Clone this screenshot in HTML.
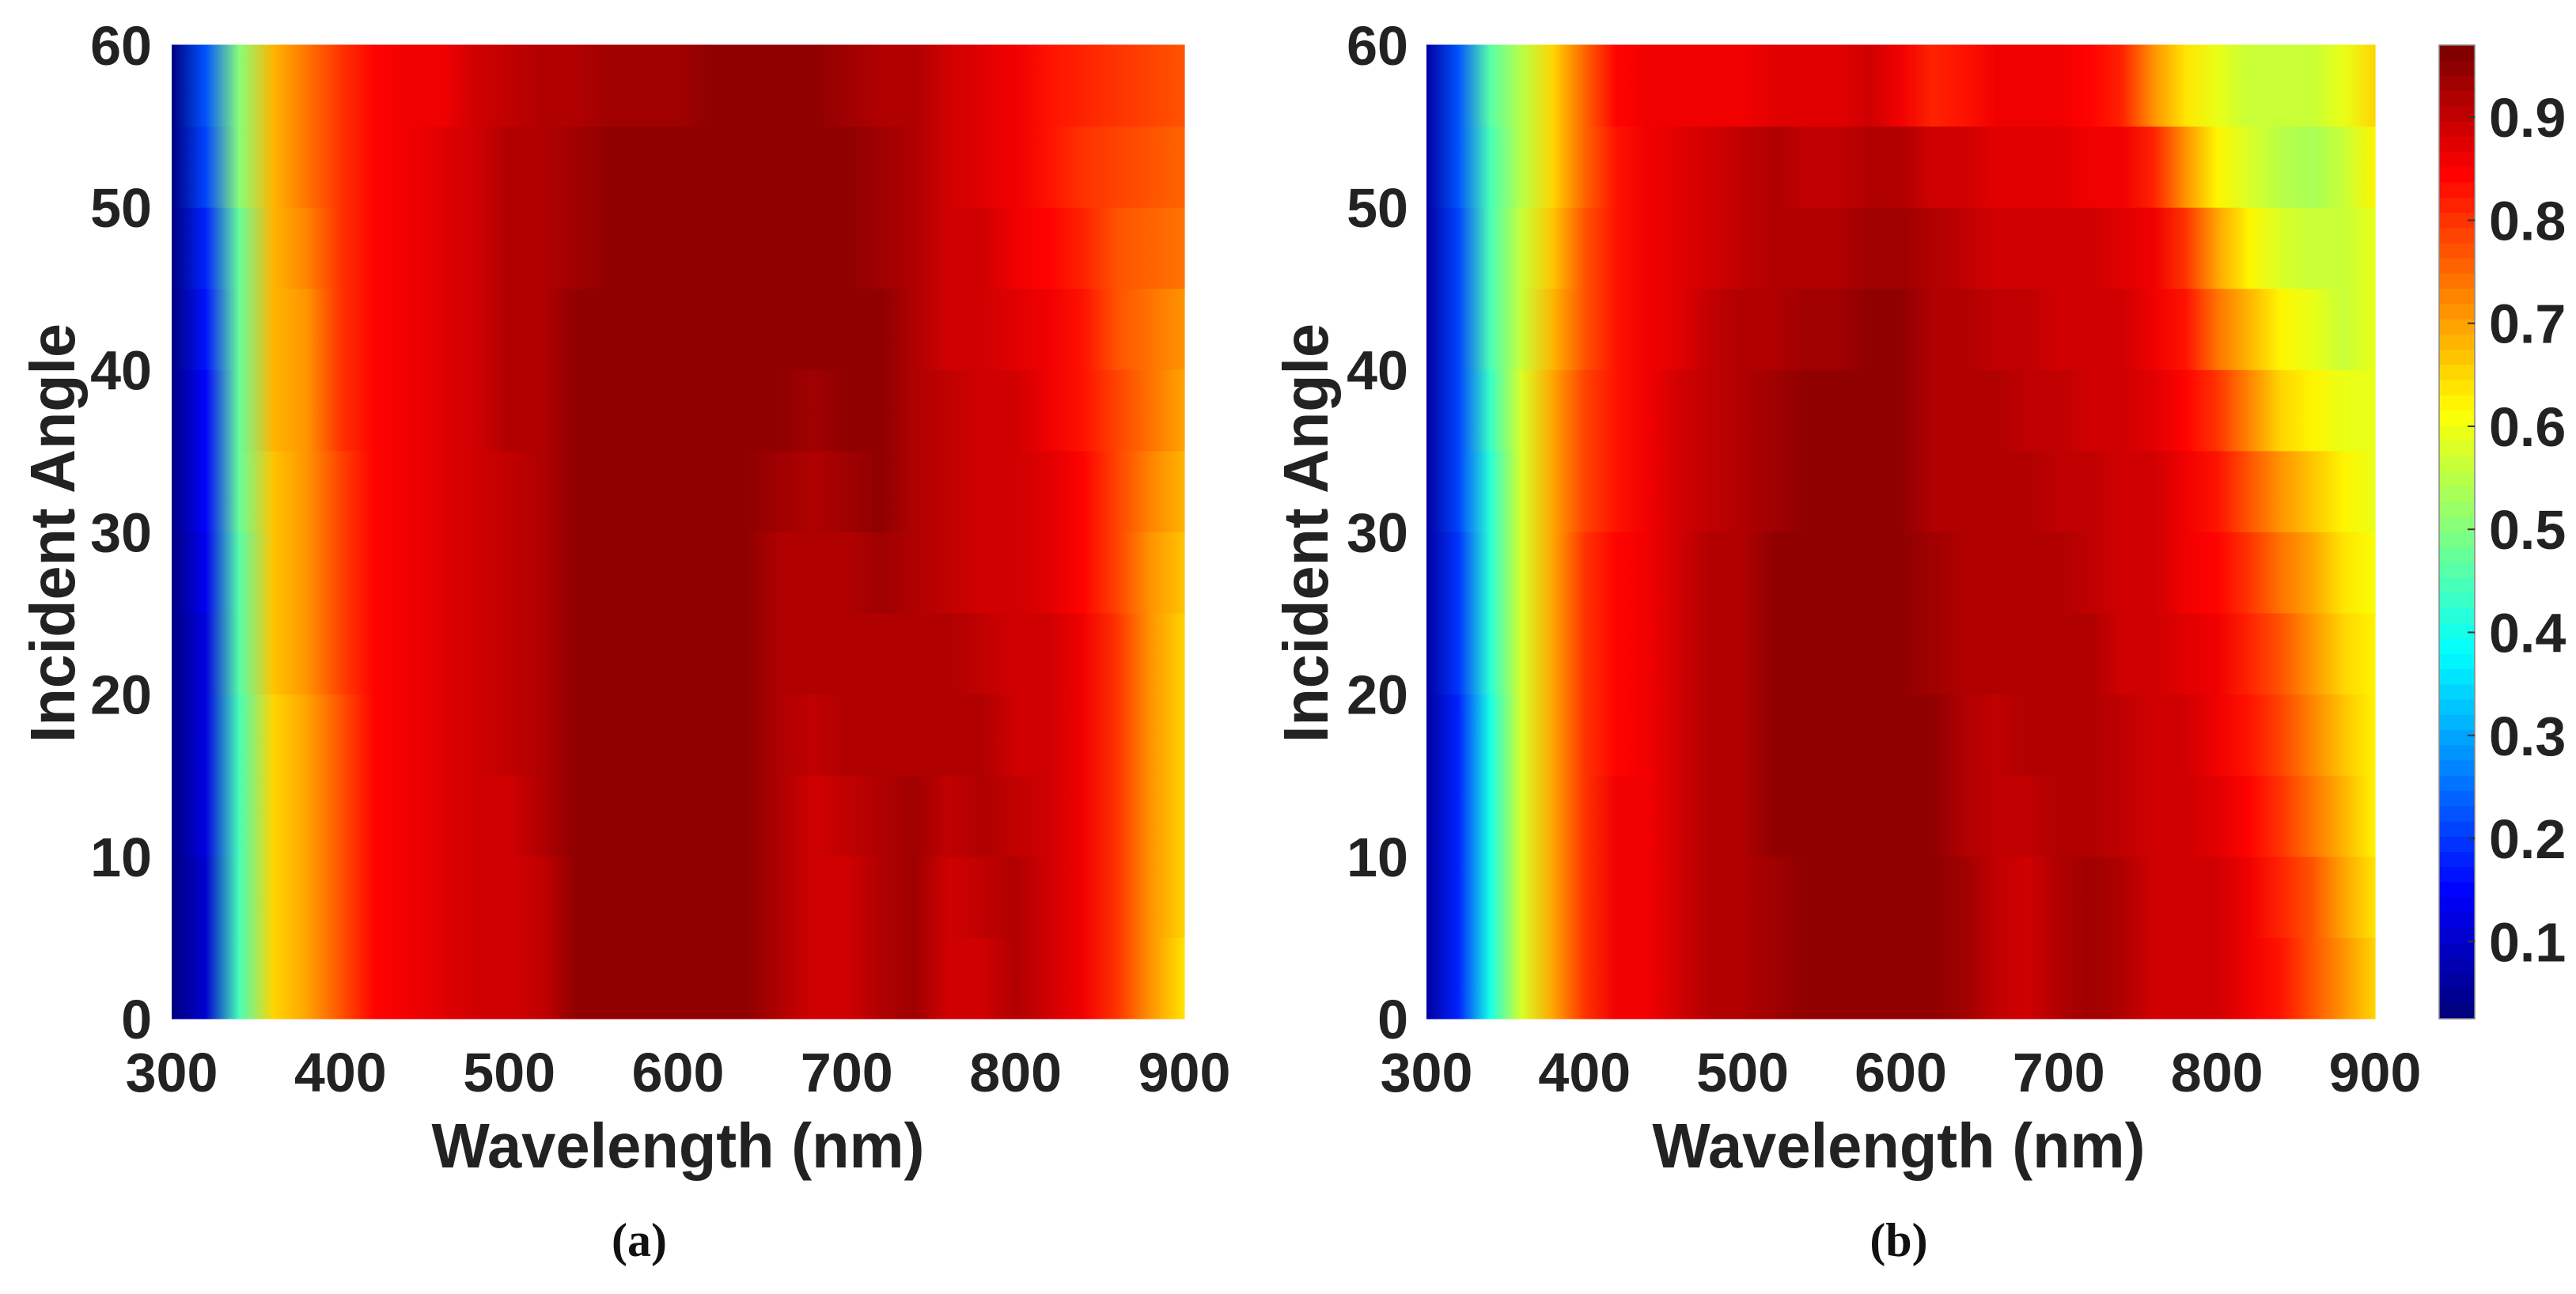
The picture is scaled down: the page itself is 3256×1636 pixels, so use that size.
<!DOCTYPE html>
<html><head><meta charset="utf-8"><style>
html,body{margin:0;padding:0;background:#fff;}
svg{display:block;}
text{font-family:"Liberation Sans",Arial,sans-serif;font-weight:bold;fill:#222;}
.cap{font-family:"Liberation Serif",serif;font-weight:bold;fill:#111;}
</style></head><body>
<svg id="fig" width="3256" height="1636" viewBox="0 0 3256 1636" xmlns="http://www.w3.org/2000/svg">
<defs id="defs"></defs>
<g id="root"></g>
</svg>
<script>
const wavelengths = [300,320,340,360,380,400,420,440,460,480,500,520,540,560,580,600,620,640,660,680,700,720,740,760,780,800,820,840,860,880,900];
const angleBands = [0,5,10,15,20,25,30,35,40,45,50,55];
const xTicks = [300,400,500,600,700,800,900];
const yTicks = [0,10,20,30,40,50,60];
const cbTicks = [0.1,0.2,0.3,0.4,0.5,0.6,0.7,0.8,0.9];
const panelA = [
[.03,.1,.44,.66,.7,.78,.85,.86,.88,.9,.9,.91,.95,.96,.95,.96,.96,.96,.92,.9,.9,.92,.94,.9,.9,.92,.9,.86,.8,.72,.64],
[.03,.1,.44,.66,.7,.78,.85,.86,.88,.9,.9,.91,.95,.96,.96,.96,.96,.96,.92,.9,.9,.92,.94,.9,.91,.92,.9,.86,.8,.72,.65],
[.03,.11,.45,.66,.7,.78,.85,.86,.88,.9,.9,.92,.95,.96,.96,.96,.96,.96,.92,.9,.91,.93,.94,.91,.92,.91,.9,.86,.8,.72,.65],
[.03,.11,.45,.66,.7,.78,.85,.86,.88,.9,.91,.92,.95,.96,.96,.96,.96,.95,.93,.91,.92,.93,.93,.92,.92,.9,.9,.86,.8,.72,.66],
[.03,.12,.46,.67,.71,.79,.85,.86,.88,.9,.91,.92,.95,.96,.96,.96,.96,.95,.93,.92,.92,.93,.93,.92,.91,.9,.89,.86,.8,.72,.66],
[.03,.13,.46,.67,.71,.79,.85,.86,.88,.9,.91,.93,.95,.96,.96,.96,.96,.95,.93,.92,.93,.94,.93,.91,.9,.9,.88,.85,.79,.72,.67],
[.03,.14,.47,.67,.71,.79,.85,.86,.88,.9,.91,.93,.95,.96,.96,.96,.96,.95,.94,.93,.94,.95,.93,.91,.9,.9,.88,.85,.79,.73,.68],
[.03,.15,.47,.68,.72,.8,.85,.86,.88,.9,.92,.93,.95,.96,.96,.96,.96,.95,.95,.94,.95,.95,.93,.91,.9,.89,.87,.84,.79,.74,.7],
[.03,.16,.48,.68,.72,.8,.85,.86,.88,.9,.92,.93,.95,.96,.96,.96,.96,.95,.95,.95,.96,.95,.92,.9,.89,.88,.86,.83,.78,.75,.72],
[.03,.18,.48,.68,.73,.8,.85,.86,.88,.9,.92,.93,.94,.96,.96,.96,.95,.96,.96,.96,.95,.94,.92,.9,.89,.87,.85,.82,.78,.76,.74],
[.03,.2,.5,.69,.74,.81,.85,.86,.88,.9,.92,.93,.94,.96,.96,.96,.95,.96,.96,.96,.95,.94,.92,.9,.88,.86,.84,.81,.79,.77,.76],
[.03,.22,.5,.69,.74,.81,.85,.86,.87,.89,.91,.92,.93,.94,.94,.94,.95,.96,.96,.95,.94,.93,.92,.9,.88,.86,.84,.82,.8,.79,.78]
];
const panelB = [
[.05,.18,.4,.58,.7,.8,.86,.87,.9,.92,.93,.94,.96,.96,.96,.96,.96,.94,.91,.9,.92,.94,.92,.9,.9,.89,.87,.83,.78,.71,.65],
[.05,.18,.4,.58,.7,.8,.86,.87,.9,.92,.93,.94,.96,.96,.96,.96,.96,.94,.91,.9,.92,.94,.92,.9,.9,.89,.86,.82,.77,.7,.64],
[.05,.18,.4,.58,.7,.8,.86,.87,.9,.92,.93,.95,.96,.96,.96,.96,.96,.93,.91,.91,.93,.93,.91,.9,.89,.88,.85,.81,.75,.69,.63],
[.05,.18,.4,.58,.7,.8,.85,.87,.9,.92,.93,.95,.96,.96,.96,.96,.95,.93,.91,.92,.93,.92,.91,.9,.89,.87,.84,.79,.73,.67,.63],
[.05,.19,.41,.58,.7,.8,.85,.87,.9,.92,.93,.95,.96,.96,.96,.95,.94,.93,.92,.92,.92,.92,.9,.9,.88,.86,.82,.77,.71,.66,.62],
[.05,.19,.41,.58,.7,.8,.85,.87,.89,.92,.93,.95,.96,.96,.96,.95,.94,.93,.92,.92,.92,.91,.9,.89,.87,.85,.8,.75,.7,.64,.61],
[.05,.2,.42,.58,.7,.79,.84,.87,.89,.91,.93,.94,.95,.96,.96,.95,.93,.93,.92,.92,.91,.91,.9,.89,.86,.83,.78,.72,.67,.62,.6],
[.05,.2,.43,.58,.7,.79,.84,.86,.89,.91,.93,.94,.95,.95,.96,.96,.93,.92,.92,.91,.91,.9,.9,.88,.85,.8,.73,.66,.62,.6,.6],
[.05,.21,.44,.57,.68,.78,.83,.86,.88,.91,.92,.93,.94,.94,.95,.96,.93,.92,.91,.91,.9,.9,.89,.87,.83,.75,.68,.62,.59,.57,.6],
[.05,.21,.45,.56,.67,.77,.83,.86,.88,.9,.91,.93,.93,.93,.94,.94,.92,.91,.9,.9,.9,.89,.88,.86,.8,.7,.62,.58,.56,.56,.6],
[.05,.22,.45,.55,.66,.76,.83,.86,.88,.9,.91,.92,.91,.91,.93,.92,.9,.89,.88,.88,.88,.87,.86,.82,.72,.63,.58,.55,.54,.57,.63],
[.05,.22,.46,.55,.66,.76,.85,.86,.86,.86,.87,.88,.88,.88,.9,.86,.82,.84,.86,.86,.86,.85,.82,.72,.64,.6,.57,.56,.56,.6,.66]
];
const cMin = 0.025, cMax = 0.97;

const NS = "http://www.w3.org/2000/svg";
const root = document.getElementById('root');
const defs = document.getElementById('defs');
function mk(tag, attrs, parent){ const e=document.createElementNS(NS,tag); for(const k in attrs) e.setAttribute(k,attrs[k]); (parent||root).appendChild(e); return e; }
function clamp(v){return Math.max(0,Math.min(1,v));}
function jet(v){
  let t = clamp((v-cMin)/(cMax-cMin));
  t = Math.round(t*63)/63;
  const r=clamp(1.5-Math.abs(4*t-3)), g=clamp(1.5-Math.abs(4*t-2)), b=clamp(1.5-Math.abs(4*t-1));
  return `rgb(${Math.round(r*255)},${Math.round(g*255)},${Math.round(b*255)})`;
}
const plotTop = 57, plotBot = 1288;
const yScale = a => plotBot - (a/60)*(plotBot-plotTop);
let gid = 0;

function panel(data, x0, x1, name, ylabX, tickRight, xlabCx, capX, cap){
  const xScale = w => x0 + (w-300)/600*(x1-x0);
  const g = mk('g',{});
  
  
  for(let r=0;r<data.length;r++){
    const yA = yScale(angleBands[r]), yB = yScale(angleBands[r]+5);
    for(let j=0;j<wavelengths.length-1;j++){
      const id='gr'+(gid++);
      const lg = mk('linearGradient',{id:id,x1:0,x2:1,y1:0,y2:0},defs);
      mk('stop',{offset:0,'stop-color':jet(data[r][j])},lg);
      mk('stop',{offset:1,'stop-color':jet(data[r][j+1])},lg);
      const xa = xScale(wavelengths[j]), xb = xScale(wavelengths[j+1]);
      const rc = mk('rect',{x:xa,y:yB-0.5,width:xb-xa+0.6,height:yA-yB+1,fill:`url(#${id})`},g);
      
      
    }
  }
  xTicks.forEach(t=>{
    const tx = mk('text',{x:xScale(t),y:1380,'font-size':70,'text-anchor':'middle'});
    tx.textContent = t;
    
    
  });
  yTicks.forEach(t=>{
    const ty = mk('text',{x:tickRight,y:yScale(t)+25,'font-size':70,'text-anchor':'end'});
    ty.textContent = t;
    
    
  });
  const xl = mk('text',{x:xlabCx,y:1476,'font-size':80,'text-anchor':'middle',textLength:623,lengthAdjust:'spacingAndGlyphs'});
  xl.textContent='Wavelength (nm)';
  
  
  const yl = mk('text',{x:0,y:0,'font-size':80,'text-anchor':'middle',textLength:530,lengthAdjust:'spacingAndGlyphs',transform:`translate(${ylabX},674) rotate(-90)`});
  yl.textContent='Incident Angle';
  
  
  const c = mk('text',{x:capX,y:1588,'font-size':60,'text-anchor':'middle','class':'cap'});
  c.textContent=cap;
  
  
}
panel(panelA, 217, 1497, 'heatmap-a', 94, 192, 857, 808, '(a)');
panel(panelB, 1803, 3002, 'heatmap-b', 1678, 1780, 2400, 2400, '(b)');

// colorbar
const cbX0=3083, cbX1=3128;
const cbScale = v => plotBot - (v-cMin)/(cMax-cMin)*(plotBot-plotTop);
const cb = mk('g',{});


for(let i=0;i<64;i++){
  const v0 = cMin + i/64*(cMax-cMin), v1 = cMin+(i+1)/64*(cMax-cMin);
  const s = mk('rect',{x:cbX0,y:cbScale(v1)-0.5,width:cbX1-cbX0,height:cbScale(v0)-cbScale(v1)+1,fill:jet((v0+v1)/2)},cb);
  
  
}
mk('rect',{x:cbX0,y:plotTop,width:cbX1-cbX0,height:plotBot-plotTop,fill:'none',stroke:'#888','stroke-width':1.5},cb);
cbTicks.forEach(t=>{
  mk('line',{x1:cbX1-9,x2:cbX1,y1:cbScale(t),y2:cbScale(t),stroke:'#333','stroke-width':2},cb);
  const l = mk('text',{x:3146,y:cbScale(t)+25,'font-size':70},cb);
  l.textContent = t.toFixed(1);
  
  
});
</script>
</body></html>
